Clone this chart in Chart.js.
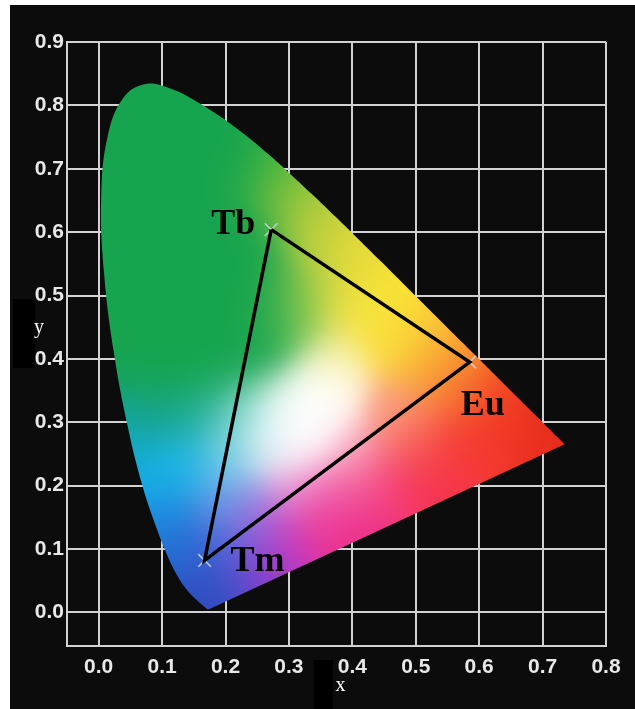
<!DOCTYPE html>
<html>
<head>
<meta charset="utf-8">
<script src="https://cdn.jsdelivr.net/npm/chart.js@4.4.1/dist/chart.umd.min.js"></script>
<style>
  html, body { margin: 0; padding: 0; background: #ffffff; }
  canvas { display: block; }
</style>
</head>
<body>
<canvas id="cie" width="635" height="709"></canvas>
<script>
// CIE 1931 2° spectral locus, 380–700 nm in 5 nm steps
const LOCUS_X = [0.1741,0.1740,0.1738,0.1736,0.1733,0.1730,0.1726,0.1721,0.1714,0.1703,
                 0.1689,0.1669,0.1644,0.1611,0.1566,0.1510,0.1440,0.1355,0.1241,0.1096,
                 0.0913,0.0687,0.0454,0.0235,0.0082,0.0039,0.0139,0.0389,0.0743,0.1142,
                 0.1547,0.1929,0.2296,0.2658,0.3016,0.3373,0.3731,0.4087,0.4441,0.4788,
                 0.5125,0.5448,0.5752,0.6029,0.6270,0.6482,0.6658,0.6801,0.6915,0.7006,
                 0.7079,0.7140,0.7190,0.7230,0.7260,0.7283,0.7300,0.7311,0.7320,0.7327,
                 0.7334,0.7340,0.7344,0.7346,0.7347];
const LOCUS_Y = [0.0050,0.0050,0.0049,0.0049,0.0048,0.0048,0.0048,0.0048,0.0051,0.0058,
                 0.0069,0.0086,0.0109,0.0138,0.0177,0.0227,0.0297,0.0399,0.0578,0.0868,
                 0.1327,0.2007,0.2950,0.4127,0.5384,0.6548,0.7502,0.8120,0.8338,0.8262,
                 0.8059,0.7816,0.7543,0.7243,0.6923,0.6589,0.6245,0.5896,0.5547,0.5202,
                 0.4866,0.4544,0.4242,0.3965,0.3725,0.3514,0.3340,0.3197,0.3083,0.2993,
                 0.2920,0.2859,0.2809,0.2770,0.2740,0.2717,0.2700,0.2689,0.2680,0.2673,
                 0.2666,0.2660,0.2656,0.2654,0.2653];

// Emission colour points of the three dopant ions
const EMITTERS = ['Tb', 'Eu', 'Tm'];
const EMIT_X = [0.272, 0.585, 0.167];
const EMIT_Y = [0.604, 0.395, 0.082];

// Axis ticks
const X_TICKS = [0.0, 0.1, 0.2, 0.3, 0.4, 0.5, 0.6, 0.7, 0.8];
const X_TICK_LABELS = ['0.0', '0.1', '0.2', '0.3', '0.4', '0.5', '0.6', '0.7', '0.8'];
const Y_TICKS = [0.0, 0.1, 0.2, 0.3, 0.4, 0.5, 0.6, 0.7, 0.8, 0.9];
const Y_TICK_LABELS = ['0.0', '0.1', '0.2', '0.3', '0.4', '0.5', '0.6', '0.7', '0.8', '0.9'];
const X_TITLE = 'x';
const Y_TITLE = 'y';

// Colour stops used to paint the inside of the horseshoe: [x, y, r, g, b]
const G = [22, 164, 78];
const PAINT_STOPS = [
  // green
  [0.03,0.62,...G], [0.05,0.75,...G], [0.09,0.82,...G], [0.12,0.74,...G], [0.18,0.72,...G],
  [0.22,0.70,...G], [0.10,0.62,...G], [0.18,0.62,...G], [0.24,0.60,...G], [0.05,0.50,...G],
  [0.13,0.52,...G], [0.21,0.52,...G], [0.27,0.52,...G], [0.05,0.40,...G], [0.12,0.42,...G],
  [0.19,0.43,...G], [0.26,0.45,...G], [0.10,0.36,...G], [0.18,0.37,...G], [0.25,0.39,...G],
  // yellow-green rim
  [0.27,0.68, 90,185,60], [0.31,0.64, 160,200,60], [0.35,0.60, 200,210,60],
  [0.33,0.52, 170,205,70], [0.31,0.46, 120,195,80],
  // yellow
  [0.40,0.55, 235,220,55], [0.39,0.48, 240,225,70], [0.45,0.48, 250,228,50],
  [0.46,0.43, 250,225,60], [0.51,0.44, 250,210,55], [0.52,0.40, 250,185,55],
  [0.37,0.40, 250,240,170],
  // orange and red
  [0.56,0.40, 248,150,45], [0.55,0.36, 248,130,55], [0.59,0.35, 245,85,40],
  [0.64,0.33, 240,60,35], [0.70,0.29, 230,45,28], [0.62,0.28, 242,55,40],
  [0.57,0.26, 245,60,55], [0.47,0.32, 250,160,130], [0.50,0.27, 248,95,85],
  // white
  [0.31,0.30, 255,255,255], [0.29,0.33, 255,255,255], [0.34,0.32, 255,255,255],
  [0.32,0.27, 255,255,255], [0.36,0.35, 255,255,250], [0.27,0.27, 235,245,250],
  // pink and magenta
  [0.40,0.25, 248,170,190], [0.38,0.19, 242,90,165], [0.45,0.20, 245,60,120],
  [0.53,0.21, 245,50,80], [0.35,0.14, 238,55,150], [0.41,0.12, 235,45,135],
  [0.31,0.20, 235,150,215], [0.29,0.10, 200,50,190], [0.25,0.06, 130,60,205],
  [0.25,0.14, 170,110,225],
  // blue
  [0.17,0.01, 50,70,185], [0.18,0.05, 45,85,200], [0.14,0.10, 35,105,210],
  [0.21,0.10, 75,100,215], [0.11,0.15, 30,130,220], [0.20,0.17, 110,150,230],
  // cyan and teal
  [0.09,0.21, 20,175,232], [0.14,0.23, 30,185,235], [0.21,0.24, 130,210,235],
  [0.05,0.27, 20,170,200], [0.06,0.32, 20,160,135], [0.13,0.31, 25,170,160],
  [0.20,0.31, 60,190,185], [0.24,0.31, 170,230,225]
];
const PAINT_SHARPNESS = 320;

function paintAt(x, y) {
  let r = 0, g = 0, b = 0, ws = 0;
  for (const s of PAINT_STOPS) {
    const dx = x - s[0], dy = y - s[1];
    const w = Math.exp(-(dx * dx + dy * dy) * PAINT_SHARPNESS);
    r += w * s[2]; g += w * s[3]; b += w * s[4]; ws += w;
  }
  if (ws < 1e-300) return G;
  return [r / ws, g / ws, b / ws];
}

// Page backdrop and the dark boxes behind the axis titles
const backdrop = {
  id: 'backdrop',
  beforeDraw(chart) {
    const ctx = chart.ctx;
    ctx.save();
    ctx.fillStyle = '#ffffff';
    ctx.fillRect(0, 0, chart.width, chart.height);
    ctx.fillStyle = '#0c0c0c';
    ctx.fillRect(10, 5, chart.width - 10, chart.height - 5);
    ctx.fillStyle = '#000000';
    ctx.fillRect(13, 299, 22, 69);
    ctx.fillRect(314, 660, 19, 49);
    ctx.restore();
  }
};

// Outline of the locus, following the smoothed line of dataset 0
function tracePath(chart, ctx) {
  const meta = chart.getDatasetMeta(0);
  const line = meta.dataset;
  ctx.beginPath();
  try {
    line.updateControlPoints(chart.chartArea, 'x');
    line.path(ctx);
  } catch (e) {
    ctx.beginPath();
    meta.data.forEach((p, idx) => idx ? ctx.lineTo(p.x, p.y) : ctx.moveTo(p.x, p.y));
  }
  ctx.closePath();
}

// Fills the spectral locus with a smooth colour field
const gamutFill = {
  id: 'gamutFill',
  beforeDatasetsDraw(chart) {
    const area = chart.chartArea;
    const xs = chart.scales.x, ys = chart.scales.y;
    const w = Math.ceil(area.right - area.left), h = Math.ceil(area.bottom - area.top);
    const off = document.createElement('canvas');
    off.width = w; off.height = h;
    const octx = off.getContext('2d');
    const img = octx.createImageData(w, h);
    for (let j = 0; j < h; j++) {
      const vy = ys.getValueForPixel(area.top + j + 0.5);
      for (let i = 0; i < w; i++) {
        const vx = xs.getValueForPixel(area.left + i + 0.5);
        const c = paintAt(vx, vy);
        const k = (j * w + i) * 4;
        img.data[k] = c[0]; img.data[k + 1] = c[1]; img.data[k + 2] = c[2]; img.data[k + 3] = 255;
      }
    }
    octx.putImageData(img, 0, 0);
    const ctx = chart.ctx;
    ctx.save();
    tracePath(chart, ctx);
    ctx.clip();
    ctx.drawImage(off, area.left, area.top);
    ctx.restore();
  }
};

// Names of the emitters next to their points, and the axis titles
const annotations = {
  id: 'annotations',
  afterDatasetsDraw(chart) {
    const ctx = chart.ctx;
    const pts = chart.getDatasetMeta(1).data;
    const place = [
      { align: 'right', dx: -16, dy: 4 },
      { align: 'left', dx: -9, dy: 53 },
      { align: 'left', dx: 26, dy: 11 }
    ];
    ctx.save();
    ctx.fillStyle = '#050505';
    ctx.font = 'bold 36px "Liberation Serif", "Times New Roman", serif';
    ctx.textBaseline = 'alphabetic';
    EMITTERS.forEach((name, i) => {
      const p = pts[i];
      ctx.textAlign = place[i].align;
      ctx.fillText(name, p.x + place[i].dx, p.y + place[i].dy);
    });
    ctx.restore();
  },
  afterDraw(chart) {
    const ctx = chart.ctx;
    const area = chart.chartArea;
    ctx.save();
    ctx.fillStyle = '#ffffff';
    ctx.font = '20px "Liberation Serif", "Times New Roman", serif';
    ctx.textAlign = 'center';
    ctx.textBaseline = 'alphabetic';
    ctx.fillText(X_TITLE, (area.left + area.right) / 2 + 4, 691);
    ctx.fillText(Y_TITLE, 39, chart.scales.y.getPixelForValue(0.45) + 6);
    ctx.restore();
  }
};

const gridColor = '#d2d2d2';
const tickFont = { family: '"Liberation Sans", Arial, sans-serif', size: 21, weight: 'bold' };

new Chart(document.getElementById('cie'), {
  type: 'scatter',
  data: {
    datasets: [
      {
        data: LOCUS_X.map((x, i) => ({ x, y: LOCUS_Y[i] })),
        showLine: true,
        tension: 0.4,
        borderColor: 'transparent',
        borderWidth: 0,
        pointRadius: 0,
        order: 3
      },
      {
        data: EMIT_X.map((x, i) => ({ x, y: EMIT_Y[i] })),
        showLine: false,
        pointStyle: 'crossRot',
        pointRadius: 9,
        borderColor: 'rgba(200,212,220,0.9)',
        borderWidth: 1.6,
        order: 2
      },
      {
        data: EMIT_X.concat([EMIT_X[0]]).map((x, i) => ({ x, y: EMIT_Y.concat([EMIT_Y[0]])[i] })),
        showLine: true,
        borderColor: '#000000',
        borderWidth: 3.5,
        pointRadius: 0,
        tension: 0,
        order: 1
      }
    ]
  },
  options: {
    responsive: false,
    animation: false,
    events: [],
    layout: { padding: { left: 10, top: 42, right: 29, bottom: 23 } },
    plugins: { legend: { display: false }, tooltip: { enabled: false } },
    scales: {
      x: {
        type: 'linear',
        min: -0.05,
        max: 0.8,
        afterBuildTicks: s => { s.ticks = X_TICKS.map(v => ({ value: v })); },
        afterFit: s => { s.height = 40; },
        grid: { color: gridColor, lineWidth: 2, drawTicks: false },
        border: { display: true, color: gridColor, width: 2 },
        ticks: {
          color: '#e8e8e8',
          font: tickFont,
          padding: 9,
          maxRotation: 0,
          autoSkip: false,
          callback: (v, i) => X_TICK_LABELS[i]
        }
      },
      y: {
        type: 'linear',
        min: -0.053,
        max: 0.9,
        afterBuildTicks: s => { s.ticks = Y_TICKS.map(v => ({ value: v })); },
        afterFit: s => { s.width = 57; },
        grid: { color: gridColor, lineWidth: 2, drawTicks: false },
        border: { display: true, color: gridColor, width: 2 },
        ticks: {
          color: '#e8e8e8',
          font: tickFont,
          padding: 3,
          autoSkip: false,
          callback: (v, i) => Y_TICK_LABELS[i]
        }
      }
    }
  },
  plugins: [backdrop, gamutFill, annotations]
});
</script>
</body>
</html>
